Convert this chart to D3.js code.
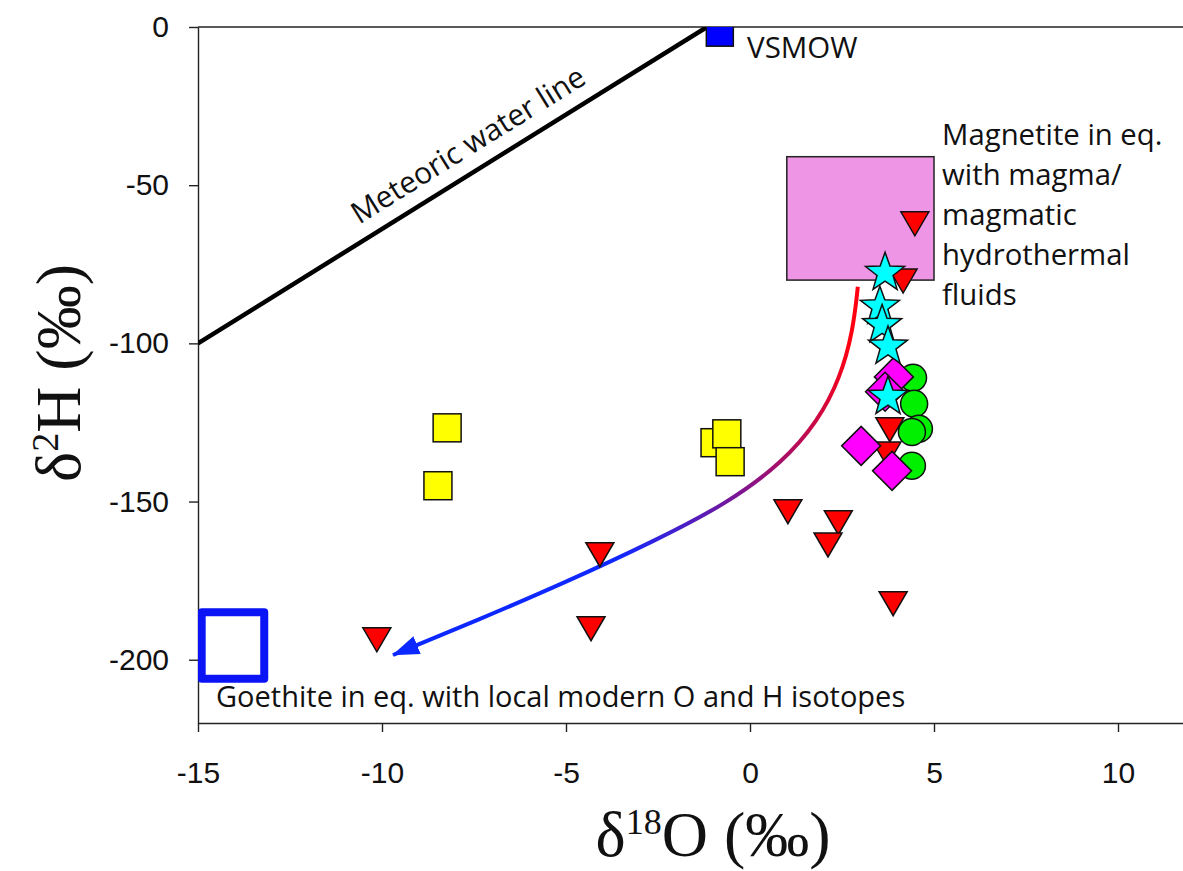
<!DOCTYPE html>
<html>
<head>
<meta charset="utf-8">
<script src="https://cdn.jsdelivr.net/npm/d3@7"></script>
<style>
  body { margin: 0; background: #fff; }
  svg { display: block; }
</style>
</head>
<body>
<script>
// ---- Data (δ18O ‰, δ2H ‰) ----
const xTicks = [-15, -10, -5, 0, 5, 10];
const yTicks = [0, -50, -100, -150, -200];

const redTriangles = [
  [4.48, -62.2], [4.16, -80.3], [3.80, -127.3], [3.72, -135.0],
  [2.40, -156.7], [2.12, -163.7], [3.89, -182.3], [1.03, -153.2],
  [-4.08, -166.8], [-4.32, -190.2], [-10.14, -193.7]
];
const yellowSquares = [
  [-8.23, -126.7], [-8.48, -145.0], [-0.95, -131.4], [-0.63, -128.6], [-0.54, -137.4]
];
const greenCircles = [
  [4.43, -110.9], [4.46, -119.1], [4.59, -127.0], [4.40, -128.0], [4.40, -138.7]
];
const magentaDiamonds = [
  [3.91, -110.6], [3.67, -115.3], [3.02, -132.4], [3.86, -140.3]
];
const cyanStars = [
  [3.67, -77.7], [3.53, -88.4], [3.59, -94.2], [3.75, -101.0], [3.75, -116.9]
];
const vsmowPoint = [[-0.82, -1.8]];

// Meteoric water line end points
const meteoricLine = [[-15, -100], [-1.17, 0]];

// Equilibrium fields
const magnetiteO = [1, 5];
const magnetiteH = [-80, -41];
const goethiteO = [-14.9, -13.2];
const goethiteH = [-206, -185];

// Trend from magmatic towards meteoric-equilibrated compositions
const mixingPath = [
  [2.93, -82.1], [2.80, -96.0], [2.45, -111.0], [1.85, -124.5],
  [0.90, -137.5], [-0.60, -150.5], [-2.60, -162.5], [-5.00, -175.5],
  [-7.40, -187.5], [-9.70, -198.5]
];

// ---- Layout ----
const W = 1183, H = 871;
const svg = d3.select("body").append("svg").attr("width", W).attr("height", H);

const x = d3.scaleLinear().domain([-15, 12]).range([198, 198 + 27 * 36.8]);
const y = d3.scaleLinear().domain([-220, 0]).range([723, 27]);

const defs = svg.append("defs");
defs.append("clipPath").attr("id", "plot-clip")
  .append("rect")
  .attr("x", x(-15)).attr("y", y(0))
  .attr("width", x(12) - x(-15)).attr("height", y(-220) - y(0));

// ---- Axes ----
const tickFont = "'Liberation Sans', Arial, sans-serif";
const plainNum = d => String(d);

const gx = svg.append("g")
  .attr("transform", `translate(0,${y(-220)})`)
  .call(d3.axisBottom(x).tickValues(xTicks).tickFormat(plainNum)
    .tickSize(9).tickSizeOuter(0).tickPadding(30));
const gy = svg.append("g")
  .attr("transform", `translate(${x(-15)},0)`)
  .call(d3.axisLeft(y).tickValues(yTicks).tickFormat(plainNum)
    .tickSize(9).tickSizeOuter(0).tickPadding(20));

[gx, gy].forEach(g => {
  g.select(".domain").attr("stroke", "#222").attr("stroke-width", 1.4);
  g.selectAll(".tick line").attr("stroke", "#222").attr("stroke-width", 1.4);
  g.selectAll(".tick text")
    .attr("font-family", tickFont).attr("font-size", 30).attr("fill", "#111");
});

// top frame line
svg.append("line")
  .attr("x1", x(-15)).attr("x2", x(12))
  .attr("y1", y(0)).attr("y2", y(0))
  .attr("stroke", "#222").attr("stroke-width", 1.4);

// ---- Axis titles ----
const serif = "'Liberation Serif', 'Times New Roman', serif";
const xt = svg.append("text")
  .attr("x", 713).attr("y", 856)
  .attr("text-anchor", "middle")
  .attr("font-family", serif).attr("font-size", 64).attr("fill", "#111");
xt.append("tspan").text("δ");
xt.append("tspan").attr("font-size", 36).attr("dy", -22).text("18");
xt.append("tspan").attr("dy", 22).text("O (‰)");

const yt = svg.append("text")
  .attr("transform", `translate(80,373) rotate(-90)`)
  .attr("text-anchor", "middle")
  .attr("font-family", serif).attr("font-size", 64).attr("fill", "#111");
yt.append("tspan").text("δ");
yt.append("tspan").attr("font-size", 38).attr("dy", -22).text("2");
yt.append("tspan").attr("dy", 22).text("H (‰)");

// ---- Plot content ----
const plot = svg.append("g").attr("clip-path", "url(#plot-clip)");

// magmatic field
plot.append("rect")
  .attr("x", x(magnetiteO[0])).attr("y", y(magnetiteH[1]))
  .attr("width", x(magnetiteO[1]) - x(magnetiteO[0]))
  .attr("height", y(magnetiteH[0]) - y(magnetiteH[1]))
  .attr("fill", "#EE95E6").attr("stroke", "#222").attr("stroke-width", 1.5);

// goethite field
plot.append("rect")
  .attr("x", x(goethiteO[0])).attr("y", y(goethiteH[1]))
  .attr("width", x(goethiteO[1]) - x(goethiteO[0]))
  .attr("height", y(goethiteH[0]) - y(goethiteH[1]))
  .attr("fill", "none").attr("stroke", "#0A14F5").attr("stroke-width", 8)
  .attr("stroke-linejoin", "round");

// meteoric water line
plot.append("path")
  .datum(meteoricLine)
  .attr("d", d3.line().x(d => x(d[0])).y(d => y(d[1])))
  .attr("stroke", "#000").attr("stroke-width", 4.5).attr("fill", "none");

// trend arrow with red→blue gradient
const grad = defs.append("linearGradient")
  .attr("id", "trend-grad").attr("gradientUnits", "userSpaceOnUse")
  .attr("x1", x(mixingPath[0][0])).attr("y1", y(mixingPath[0][1]))
  .attr("x2", x(mixingPath[mixingPath.length - 1][0])).attr("y2", y(mixingPath[mixingPath.length - 1][1]));
grad.append("stop").attr("offset", 0.07).attr("stop-color", "#FF0010");
grad.append("stop").attr("offset", 0.30).attr("stop-color", "#A01070");
grad.append("stop").attr("offset", 0.60).attr("stop-color", "#1028FF");
grad.append("stop").attr("offset", 1).attr("stop-color", "#0A28FF");

defs.append("marker")
  .attr("id", "trend-head")
  .attr("markerUnits", "userSpaceOnUse")
  .attr("viewBox", "0 -12 28 24")
  .attr("refX", 26).attr("refY", 0)
  .attr("markerWidth", 28).attr("markerHeight", 24)
  .attr("orient", "auto")
  .append("path")
  .attr("d", "M0,-9.5 L27,0 L0,9.5 Z")
  .attr("fill", "#0A28FF");

plot.append("path")
  .datum(mixingPath)
  .attr("d", d3.line().x(d => x(d[0])).y(d => y(d[1])).curve(d3.curveBasis))
  .attr("stroke", "url(#trend-grad)").attr("stroke-width", 4)
  .attr("fill", "none")
  .attr("marker-end", "url(#trend-head)");

// ---- Symbols ----
function styled(sel, fill) {
  return sel.attr("fill", fill).attr("stroke", "#111").attr("stroke-width", 1.5);
}

// yellow squares
styled(plot.append("g").selectAll("rect").data(yellowSquares).join("rect")
  .attr("x", d => x(d[0]) - 14).attr("y", d => y(d[1]) - 14)
  .attr("width", 28).attr("height", 28), "#FFFF00");

// green circles
styled(plot.append("g").selectAll("circle").data(greenCircles).join("circle")
  .attr("cx", d => x(d[0])).attr("cy", d => y(d[1])).attr("r", 13.5), "#00F000");

// red down-pointing triangles
styled(plot.append("g").selectAll("path").data(redTriangles).join("path")
  .attr("d", d => {
    const cx = x(d[0]), cy = y(d[1]);
    return `M${cx - 14},${cy - 12}L${cx + 14},${cy - 12}L${cx},${cy + 12}Z`;
  }), "#FF0000");

// magenta diamonds
styled(plot.append("g").selectAll("path").data(magentaDiamonds).join("path")
  .attr("d", d => {
    const cx = x(d[0]), cy = y(d[1]), r = 19.5;
    return `M${cx},${cy - r}L${cx + r},${cy}L${cx},${cy + r}L${cx - r},${cy}Z`;
  }), "#FF00FF");

// cyan stars
function starPath(cx, cy, R, r) {
  const pts = [];
  for (let i = 0; i < 10; i++) {
    const a = -Math.PI / 2 + i * Math.PI / 5;
    const rad = i % 2 === 0 ? R : r;
    pts.push([cx + rad * Math.cos(a), cy + rad * Math.sin(a)]);
  }
  return "M" + pts.map(p => p.join(",")).join("L") + "Z";
}
styled(plot.append("g").selectAll("path").data(cyanStars).join("path")
  .attr("d", d => starPath(x(d[0]), y(d[1]), 20.5, 8.4)), "#00FFFF");

// VSMOW
styled(plot.append("g").selectAll("rect").data(vsmowPoint).join("rect")
  .attr("x", d => x(d[0]) - 13.5).attr("y", d => y(d[1]) - 13.5)
  .attr("width", 27).attr("height", 27), "#0000FF");

// ---- Annotations ----
const note = "'Open Sans', 'Noto Sans', sans-serif";

svg.append("text")
  .attr("x", x(-0.08)).attr("y", y(-9.8))
  .attr("font-family", note).attr("font-size", 29.5).attr("fill", "#111")
  .text("VSMOW");

const magLines = ["Magnetite in eq.", "with magma/", "magmatic", "hydrothermal", "fluids"];
svg.append("g").selectAll("text").data(magLines).join("text")
  .attr("x", x(5.22)).attr("y", (d, i) => y(-37.3) + i * 40)
  .attr("font-family", note).attr("font-size", 29.3).attr("fill", "#111")
  .text(d => d);

svg.append("text")
  .attr("x", x(-14.51)).attr("y", y(-214.9))
  .attr("font-family", note).attr("font-size", 29).attr("fill", "#111")
  .text("Goethite in eq. with local modern O and H isotopes");

// label along the meteoric water line
const p0 = [x(meteoricLine[0][0]), y(meteoricLine[0][1])];
const p1 = [x(meteoricLine[1][0]), y(meteoricLine[1][1])];
const ang = Math.atan2(p1[1] - p0[1], p1[0] - p0[0]) * 180 / Math.PI;
svg.append("text")
  .attr("transform", `translate(${x(-10.62)},${y(-62.5)}) rotate(${ang})`)
  .attr("font-family", note).attr("font-size", 30).attr("fill", "#111")
  .text("Meteoric water line");
</script>
</body>
</html>
